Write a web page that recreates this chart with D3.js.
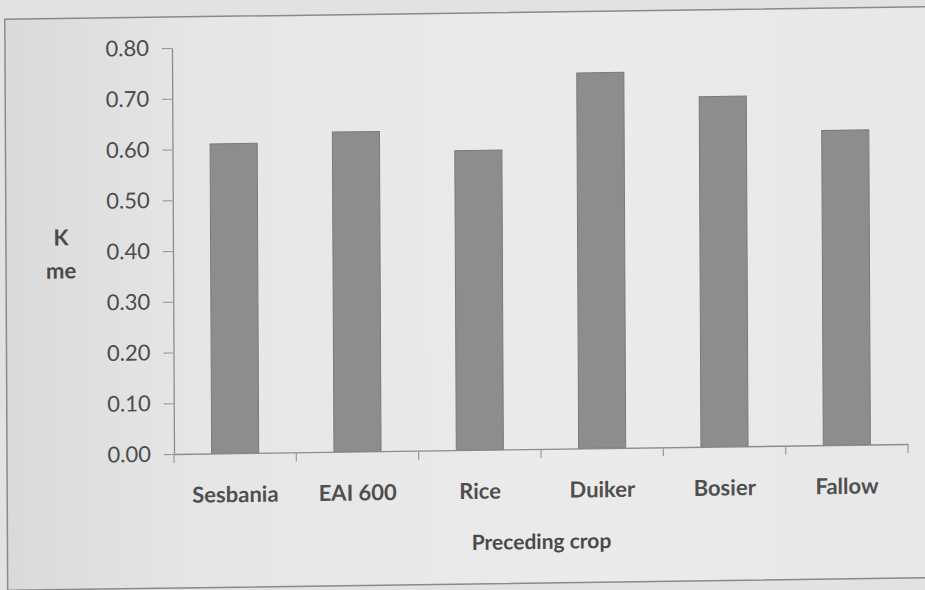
<!DOCTYPE html>
<html>
<head>
<meta charset="utf-8">
<script src="https://cdn.jsdelivr.net/npm/d3@7"></script>
<style>
  html, body { margin: 0; padding: 0; background: #e3e3e3; }
  svg { display: block; }
</style>
</head>
<body>
<svg id="chart" width="925" height="590"></svg>
<script>
// Exchangeable K (me) after each preceding crop
const categories = ["Sesbania", "EAI 600", "Rice", "Duiker", "Bosier", "Fallow"];
const kValues = [0.61, 0.63, 0.59, 0.74, 0.69, 0.62];
const yTicks = [0, 0.1, 0.2, 0.3, 0.4, 0.5, 0.6, 0.7, 0.8];
const yTitle = ["K", "me"];
const xTitle = "Preceding crop";

const W = 925, H = 590;
const origin = { x: 174, y: 454 };
const plotRight = 908, plotTop = 48;

const svg = d3.select("#chart");

// page background with a soft darker edge on the left
const defs = svg.append("defs");
const bgGrad = defs.append("linearGradient").attr("id", "bg").attr("x1", 0).attr("x2", 1).attr("y1", 0).attr("y2", 0);
bgGrad.append("stop").attr("offset", "0").attr("stop-color", "#dadada");
bgGrad.append("stop").attr("offset", "0.2").attr("stop-color", "#e6e6e6");
bgGrad.append("stop").attr("offset", "0.6").attr("stop-color", "#ebebeb");
bgGrad.append("stop").attr("offset", "1").attr("stop-color", "#e7e7e7");

svg.append("rect").attr("width", W).attr("height", H).attr("fill", "#e2e2e2");

// the whole chart sits on a slightly tilted sheet
const g = svg.append("g")
  .attr("transform",
    `translate(${origin.x},${origin.y}) matrix(1,-0.0136,0.005,1,0,0) translate(${-origin.x},${-origin.y})`);

// chart frame
g.append("rect")
  .attr("x", 7).attr("y", 17)
  .attr("width", 960).attr("height", 571)
  .attr("fill", "url(#bg)")
  .attr("stroke", "#8a8a8a").attr("stroke-width", 1.5);

const x = d3.scaleBand()
  .domain(categories)
  .range([origin.x, plotRight])
  .paddingInner(0.615)
  .paddingOuter(0.3075);

const y = d3.scaleLinear()
  .domain([0, 0.8])
  .range([origin.y, plotTop]);

// bars
g.append("g")
  .selectAll("rect")
  .data(categories)
  .join("rect")
  .attr("x", d => x(d))
  .attr("y", (d, i) => y(kValues[i]))
  .attr("width", x.bandwidth())
  .attr("height", (d, i) => y(0) - y(kValues[i]))
  .attr("fill", "#8d8d8d")
  .attr("stroke", "#7a7a7a")
  .attr("stroke-width", 1);

// y axis
const yAxis = g.append("g")
  .attr("transform", `translate(${origin.x},0)`)
  .call(d3.axisLeft(y).tickValues(yTicks).tickFormat(d3.format(".2f"))
    .tickSize(10).tickSizeOuter(0).tickPadding(13));
yAxis.select(".domain").attr("stroke", "#8c8c8c").attr("stroke-width", 1.3);
yAxis.selectAll(".tick line").attr("stroke", "#9a9a9a").attr("stroke-width", 1.2);
yAxis.selectAll(".tick text")
  .attr("fill", "#4c4c4c")
  .style("font-family", "Lato, 'Open Sans', sans-serif")
  .style("font-size", "22px")
  .style("font-weight", "normal");

// x axis: line, ticks between categories, labels
const xAxis = g.append("g")
  .attr("transform", `translate(0,${origin.y})`)
  .call(d3.axisBottom(x).tickSize(0).tickSizeOuter(0).tickPadding(0));
xAxis.select(".domain").attr("stroke", "#8c8c8c").attr("stroke-width", 1.3);
xAxis.selectAll(".tick text")
  .attr("y", 49)
  .attr("dy", 0)
  .attr("fill", "#4f4f4f")
  .style("font-family", "Lato, 'Open Sans', sans-serif")
  .style("font-size", "22px")
  .style("font-weight", "bold");

const boundaries = categories.map(c => x(c) + x.bandwidth() / 2 - x.step() / 2)
  .concat([x(categories[categories.length - 1]) + x.bandwidth() / 2 + x.step() / 2]);
xAxis.append("g")
  .selectAll("line")
  .data(boundaries)
  .join("line")
  .attr("x1", d => d).attr("x2", d => d)
  .attr("y1", 0).attr("y2", 9)
  .attr("stroke", "#9a9a9a").attr("stroke-width", 1.2);

// axis titles
g.append("text")
  .attr("x", (origin.x + plotRight) / 2)
  .attr("y", 554)
  .attr("text-anchor", "middle")
  .attr("fill", "#4a4a4a")
  .style("font-family", "Lato, 'Open Sans', sans-serif")
  .style("font-size", "21px")
  .style("font-weight", "bold")
  .text(xTitle);

g.append("g")
  .selectAll("text")
  .data(yTitle)
  .join("text")
  .attr("x", 62)
  .attr("y", (d, i) => 244 + i * 33)
  .attr("text-anchor", "middle")
  .attr("fill", "#4a4a4a")
  .style("font-family", "Lato, 'Open Sans', sans-serif")
  .style("font-size", "22px")
  .style("font-weight", "bold")
  .text(d => d);
</script>
</body>
</html>
